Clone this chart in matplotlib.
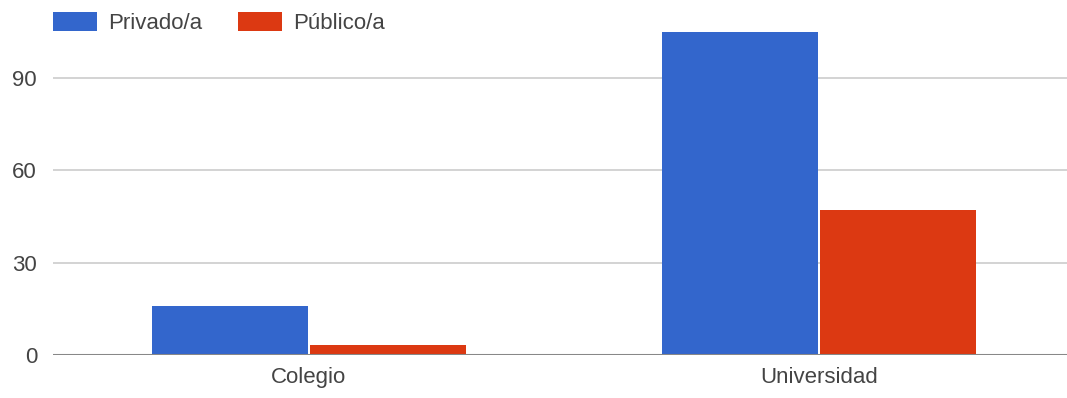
import numpy as np
import matplotlib
matplotlib.use("Agg")
from matplotlib import pyplot as plt

categorias = ["Colegio", "Universidad"]
privado = [16, 105]
publico = [3, 47]
series = ["Privado/a", "Público/a"]
colores = ["#3366cc", "#dc3912"]
yticks = [0, 30, 60, 90]

plt.rcParams["font.family"] = ["Liberation Sans", "DejaVu Sans"]

W, H = 1067, 398
fig = plt.figure(figsize=(W / 100, H / 100), dpi=100)
# area del grafico in pixel: x 53..1067, y 25..354.7
y0, y1 = 354.7, 25
ax = fig.add_axes([53 / W, (H - y0) / H, (W - 53) / W, (y0 - y1) / H])

px_per_unit = 276.4 / 90
x = np.arange(len(categorias))
w = 0.306
ax.bar(x - w / 2 - 0.002, privado, width=w, color=colores[0], label=series[0], zorder=3)
ax.bar(x + w / 2 + 0.002, publico, width=w, color=colores[1], label=series[1], zorder=3)

ax.set_xlim((53 - 309) / 510, (1067 - 309) / 510)
ax.set_ylim(0, (y0 - y1) / px_per_unit)
ax.set_yticks(yticks)
ax.set_xticks(x)
ax.set_xticklabels(categorias)
ax.tick_params(axis="both", length=0, labelsize=16, colors="#444444")
ax.tick_params(axis="y", pad=11.5)
ax.tick_params(axis="x", pad=9)
ax.yaxis.grid(True, color="#cccccc", linewidth=1.2, zorder=0)
ax.axhline(0, color="#888888", linewidth=2.2, zorder=4)
for s in ax.spines.values():
    s.set_visible(False)

ax.legend(loc="upper left", bbox_to_anchor=(44 / W, 1 - 3 / H), bbox_transform=fig.transFigure,
          ncol=2, frameon=False, fontsize=16, handlelength=1.98, handleheight=0.95,
          handletextpad=0.5, columnspacing=1.6, labelcolor="#444444", borderaxespad=0)

fig.savefig("out.png", dpi=100)
